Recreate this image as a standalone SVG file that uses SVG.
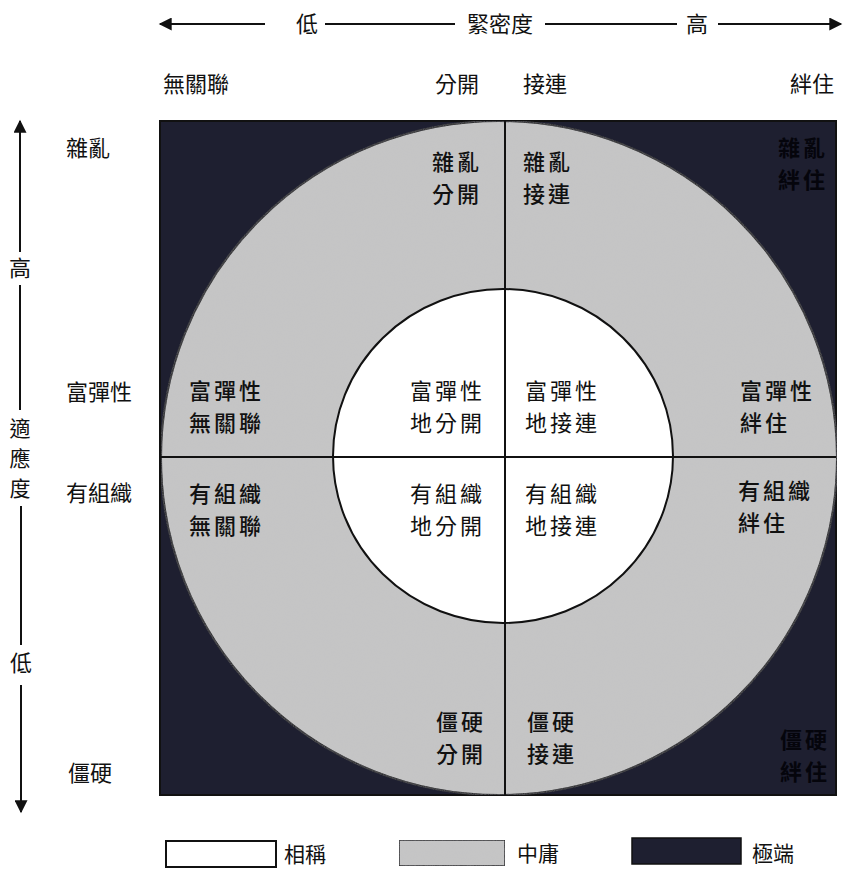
<svg xmlns="http://www.w3.org/2000/svg" width="844" height="869" viewBox="0 0 844 869">
<style>
  text { font-family: "Noto Sans CJK TC", "Noto Sans CJK SC", sans-serif; fill: #111; }
  .ax { font-size: 22px; }
  .vx { font-size: 21px; }
  .lg { font-size: 21px; }
  .lb { font-size: 22px; letter-spacing: 3px; }
  .ob { font-size: 22px; letter-spacing: 3px; font-weight: 500; }
  .dk { font-size: 22px; letter-spacing: 3px; font-weight: 700; fill: #05050c; }
  .ln { stroke: #111; stroke-width: 2; fill: none; }
  .dark { fill: #1e1f30; }
</style>
<defs>
  <marker id="ah" viewBox="0 0 10 10" refX="9" refY="5" markerWidth="14" markerHeight="13" markerUnits="userSpaceOnUse" orient="auto">
    <path d="M0,0 L10,5 L0,10 z" fill="#111"/>
  </marker>
  <filter id="grain" x="0" y="0" width="100%" height="100%">
    <feTurbulence type="fractalNoise" baseFrequency="0.9" numOctaves="1" seed="3" result="n"/>
    <feColorMatrix in="n" type="matrix" values="0 0 0 0 0.5  0 0 0 0 0.5  0 0 0 0 0.55  0 0 0 0.22 0" result="c"/>
    <feComposite in="c" in2="SourceGraphic" operator="in" result="g"/>
    <feMerge><feMergeNode in="SourceGraphic"/><feMergeNode in="g"/></feMerge>
  </filter>
</defs>

<!-- regions -->
<g id="extreme">
  <rect class="dark" x="160" y="121" width="676" height="674" stroke="#111" stroke-width="2"/>
</g>
<g id="moderate">
  <ellipse cx="499" cy="458" rx="338" ry="337" fill="#c6c6c6" stroke="#111" stroke-width="2" filter="url(#grain)"/>
</g>
<g id="balanced">
  <ellipse cx="503" cy="456" rx="170" ry="167" fill="#ffffff" stroke="#111" stroke-width="2"/>
</g>

<!-- connectors / axes -->
<g id="connectors">
  <line class="ln" x1="265" y1="24" x2="160" y2="24" marker-end="url(#ah)"/>
  <line class="ln" x1="325" y1="24" x2="455" y2="24"/>
  <line class="ln" x1="545" y1="24" x2="677" y2="24"/>
  <line class="ln" x1="718" y1="24" x2="841" y2="24" marker-end="url(#ah)"/>
  <line class="ln" x1="20" y1="252" x2="20" y2="121" marker-end="url(#ah)"/>
  <line class="ln" x1="20" y1="285" x2="20" y2="410"/>
  <line class="ln" x1="21" y1="506" x2="21" y2="645"/>
  <line class="ln" x1="21" y1="685" x2="21" y2="812" marker-end="url(#ah)"/>
  <line class="ln" x1="505" y1="121" x2="505" y2="795"/>
  <line class="ln" x1="160" y1="457" x2="836" y2="457"/>
</g>

<!-- axis labels -->
<g id="axis-labels">
  <text class="ax" x="307" y="32" text-anchor="middle">低</text>
  <text class="ax" x="500" y="32" text-anchor="middle">緊密度</text>
  <text class="ax" x="697" y="32" text-anchor="middle">高</text>
  <text class="ax" x="163" y="92">無關聯</text>
  <text class="ax" x="435" y="92">分開</text>
  <text class="ax" x="523" y="92">接連</text>
  <text class="ax" x="790" y="92">絆住</text>
  <text class="ax" x="20" y="276" text-anchor="middle">高</text>
  <text class="vx" x="20" y="436" text-anchor="middle">適</text>
  <text class="vx" x="20" y="466" text-anchor="middle">應</text>
  <text class="vx" x="20" y="496" text-anchor="middle">度</text>
  <text class="ax" x="21" y="671" text-anchor="middle">低</text>
  <text class="ax" x="66" y="156">雜亂</text>
  <text class="ax" x="66" y="400">富彈性</text>
  <text class="ax" x="66" y="501">有組織</text>
  <text class="ax" x="68" y="781">僵硬</text>
</g>

<!-- quadrant labels -->
<g id="n-chaos-sep"><text class="ob" x="432" y="170">雜亂</text><text class="ob" x="432" y="202">分開</text></g>
<g id="n-chaos-con"><text class="ob" x="523" y="170">雜亂</text><text class="ob" x="523" y="202">接連</text></g>
<g id="n-chaos-enm"><text class="dk" x="778" y="156">雜亂</text><text class="dk" x="778" y="188">絆住</text></g>
<g id="n-flex-dis"><text class="ob" x="189" y="399">富彈性</text><text class="ob" x="189" y="431">無關聯</text></g>
<g id="n-flex-sep"><text class="lb" x="410" y="399">富彈性</text><text class="lb" x="410" y="431">地分開</text></g>
<g id="n-flex-con"><text class="lb" x="525" y="399">富彈性</text><text class="lb" x="525" y="431">地接連</text></g>
<g id="n-flex-enm"><text class="ob" x="740" y="399">富彈性</text><text class="ob" x="740" y="431">絆住</text></g>
<g id="n-str-dis"><text class="ob" x="189" y="502">有組織</text><text class="ob" x="189" y="534">無關聯</text></g>
<g id="n-str-sep"><text class="lb" x="410" y="502">有組織</text><text class="lb" x="410" y="534">地分開</text></g>
<g id="n-str-con"><text class="lb" x="525" y="502">有組織</text><text class="lb" x="525" y="534">地接連</text></g>
<g id="n-str-enm"><text class="ob" x="738" y="499">有組織</text><text class="ob" x="738" y="531">絆住</text></g>
<g id="n-rig-sep"><text class="ob" x="436" y="730">僵硬</text><text class="ob" x="436" y="762">分開</text></g>
<g id="n-rig-con"><text class="ob" x="527" y="730">僵硬</text><text class="ob" x="527" y="762">接連</text></g>
<g id="n-rig-enm"><text class="dk" x="780" y="748">僵硬</text><text class="dk" x="780" y="780">絆住</text></g>

<!-- legend -->
<g id="legend">
  <rect x="166" y="841" width="110" height="26" fill="#fff" stroke="#111" stroke-width="2"/>
  <text class="lg" x="284" y="862">相稱</text>
  <rect x="399" y="840" width="106" height="26" fill="#c6c6c6" stroke="#111" stroke-width="1.5" filter="url(#grain)"/>
  <text class="lg" x="517" y="861">中庸</text>
  <rect class="dark" x="632" y="838" width="109" height="26" stroke="#111" stroke-width="1.5"/>
  <text class="lg" x="752" y="861">極端</text>
</g>
</svg>
